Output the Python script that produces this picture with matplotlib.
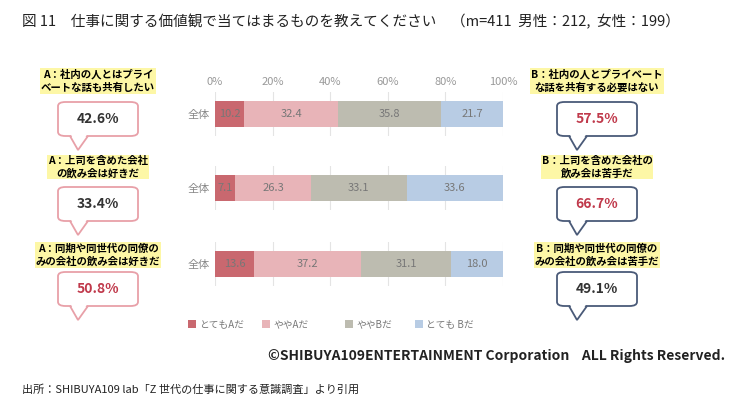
import matplotlib
matplotlib.use("Agg")
import matplotlib.pyplot as plt
from matplotlib.patches import FancyBboxPatch, Polygon, Rectangle

plt.rcParams["font.family"] = "Noto Sans CJK JP"

W, H = 750, 413
rows = ["全体", "全体", "全体"]
series = ["とてもAだ", "ややAだ", "ややBだ", "とても Bだ"]
vals = [[10.2, 32.4, 35.8, 21.7],
        [7.1, 26.3, 33.1, 33.6],
        [13.6, 37.2, 31.1, 18.0]]
colors = ["#c9686f", "#e8b4b8", "#bdbcb0", "#b8cce4"]
left_labels = ["A：社内の人とはプライ\nベートな話も共有したい",
               "A：上司を含めた会社\nの飲み会は好きだ",
               "A：同期や同世代の同僚の\nみの会社の飲み会は好きだ"]
left_pct = ["42.6%", "33.4%", "50.8%"]
right_labels = ["B：社内の人とプライベート\nな話を共有する必要はない",
                "B：上司を含めた会社の\n飲み会は苦手だ",
                "B：同期や同世代の同僚の\nみの会社の飲み会は苦手だ"]
right_pct = ["57.5%", "66.7%", "49.1%"]
left_red = [False, False, True]
right_red = [True, True, False]

fig = plt.figure(figsize=(7.5, 4.13), dpi=100)


def fx(x): return x / W
def fy(y): return 1 - y / H


bar_y = [114, 188, 264]
for i, v in enumerate(vals):
    ax = fig.add_axes([fx(215), fy(bar_y[i] + 22), fx(288), 44 / H])
    start = 0
    for j, w in enumerate(v):
        ax.barh(0, w, left=start, height=0.6, color=colors[j])
        ax.text(start + w / 2, 0, f"{w:.1f}", ha="center", va="center",
                fontsize=8, color="#777777")
        start += w
    ax.set_xlim(0, 100)
    ax.set_ylim(-0.5, 0.5)
    ax.set_xticks(range(0, 101, 20))
    ax.grid(axis="x", color="#e4e4e4", lw=0.8)
    ax.set_axisbelow(True)
    ax.set_yticks([0])
    ax.set_yticklabels([rows[i]], fontsize=8, color="#888888")
    for s in ax.spines.values():
        s.set_visible(False)
    ax.tick_params(length=0)
    if i == 0:
        ax.xaxis.tick_top()
        ax.set_xticklabels([f"{t}%" for t in range(0, 101, 20)],
                           fontsize=8, color="#999999")
    else:
        ax.set_xticklabels([])


def callout(cx, cy, label, pct, red, edge, box_y):
    fig.text(fx(cx), fy(cy), label, ha="center", va="center", fontsize=7.5,
             fontweight="bold", linespacing=1.3,
             bbox=dict(boxstyle="square,pad=0.1", fc="#fdf7a6", ec="none"))
    bx, bw, bh = cx - 40, 80, 34
    fig.patches.append(FancyBboxPatch((fx(bx), fy(box_y + bh)), fx(bw), bh / H,
                                      boxstyle="round,pad=0,rounding_size=0.01",
                                      transform=fig.transFigure, fc="white",
                                      ec=edge, lw=1.3))
    p1 = (fx(bx + 12), fy(box_y + bh))
    tip = (fx(bx + 20), fy(box_y + bh + 14))
    p2 = (fx(bx + 30), fy(box_y + bh))
    up = 2 / H
    fig.patches.append(Polygon([(p1[0] + 0.001, p1[1] + up), tip, (p2[0] - 0.001, p2[1] + up)],
                               closed=True, transform=fig.transFigure,
                               fc="white", ec="none"))
    fig.patches.append(Polygon([p1, tip, p2], closed=False, transform=fig.transFigure,
                               fill=False, ec=edge, lw=1.3))
    fig.text(fx(cx), fy(box_y + bh / 2), pct, ha="center", va="center",
             fontsize=10, fontweight="bold",
             color="#c0394b" if red else "#333333")


lab_y = [81, 167, 255]
box_y = [102, 187, 272]
for i in range(3):
    callout(98, lab_y[i], left_labels[i], left_pct[i], left_red[i], "#e8a0a8", box_y[i])
    callout(597, lab_y[i], right_labels[i], right_pct[i], right_red[i], "#4a5a78", box_y[i])

# legend
lx = [188, 262, 345, 415]
for j, s in enumerate(series):
    fig.patches.append(Rectangle((fx(lx[j]), fy(328)), fx(8), 8 / H,
                                 transform=fig.transFigure, fc=colors[j]))
    fig.text(fx(lx[j] + 11), fy(324), s, fontsize=7, color="#777777", va="center")

fig.text(fx(22), fy(22), "図 11　仕事に関する価値観で当てはまるものを教えてください　（m=411  男性：212,  女性：199）",
         fontsize=10.5, va="center", color="#222222")
fig.text(fx(725), fy(356), "©SHIBUYA109ENTERTAINMENT Corporation    ALL Rights Reserved.",
         fontsize=10, fontweight="bold", ha="right", va="center", color="#222222")
fig.text(fx(22), fy(390), "出所：SHIBUYA109 lab「Z 世代の仕事に関する意識調査」より引用",
         fontsize=8, va="center", color="#222222")

fig.savefig("out.png", dpi=100)
